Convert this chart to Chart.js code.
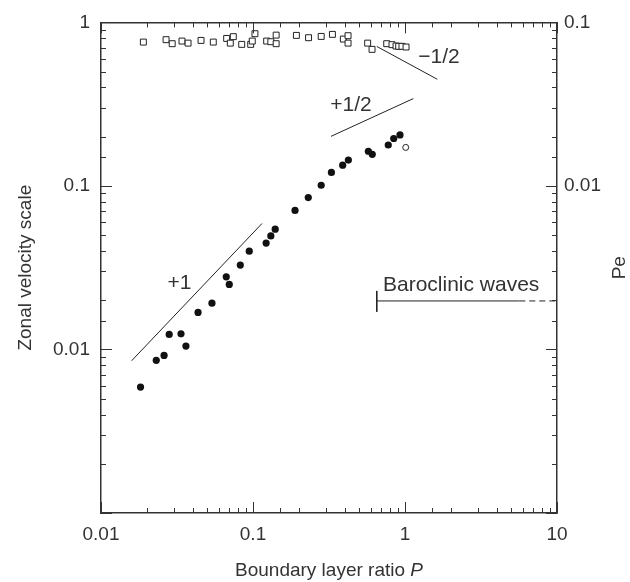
<!DOCTYPE html>
<html>
<head>
<meta charset="utf-8">
<script src="https://cdn.jsdelivr.net/npm/chart.js@4.4.0/dist/chart.umd.min.js"></script>
<style>
  html, body { margin: 0; padding: 0; background: #fff; }
  canvas { display: block; }
</style>
</head>
<body>
<canvas id="chart" width="630" height="582"></canvas>
<script>
// open squares near the top
const squareP = [0.019, 0.0268, 0.0294, 0.0341, 0.0374, 0.0455, 0.0548, 0.0671, 0.0709, 0.0742, 0.0843,
                 0.0966, 0.0989, 0.103, 0.123, 0.131, 0.142, 0.142, 0.193, 0.232, 0.281, 0.333, 0.393,
                 0.422, 0.422, 0.568, 0.607, 0.758, 0.821, 0.873, 0.909, 0.955, 1.016];
const squareV = [0.758, 0.784, 0.741, 0.769, 0.747, 0.776, 0.758, 0.798, 0.747, 0.818, 0.734,
                 0.734, 0.769, 0.853, 0.769, 0.762, 0.836, 0.741, 0.833, 0.806, 0.821, 0.845, 0.791,
                 0.829, 0.747, 0.747, 0.684, 0.741, 0.731, 0.717, 0.714, 0.714, 0.707];

// filled circles
const dotP = [0.0182, 0.0231, 0.026, 0.0281, 0.0336, 0.0362, 0.0435, 0.0537, 0.0667, 0.0698, 0.0825,
              0.0945, 0.122, 0.131, 0.14, 0.189, 0.231, 0.281, 0.328, 0.389, 0.424, 0.574, 0.609,
              0.776, 0.843, 0.927];
const dotV = [0.00589, 0.00858, 0.0092, 0.01236, 0.01247, 0.01049, 0.01685, 0.0192, 0.0278, 0.025, 0.0328,
              0.0399, 0.0447, 0.0495, 0.0544, 0.0708, 0.0849, 0.101, 0.121, 0.134, 0.144, 0.163, 0.156,
              0.178, 0.195, 0.205];

// open circle
const openP = [1.011];
const openV = [0.172];

// slope guide lines
const slopeOneP = [0.0159, 0.1146];
const slopeOneV = [0.00853, 0.0589];
const slopeHalfP = [0.326, 1.134];
const slopeHalfV = [0.201, 0.342];
const slopeNegHalfP = [0.652, 1.631];
const slopeNegHalfV = [0.713, 0.449];

// baroclinic waves range
const baroP = [0.652, 5.65];
const baroV = [0.0198, 0.0198];
const baroDashP = [5.65, 10];
const baroTickV = [0.0228, 0.017];

// tick labels
const xTicks = [0.01, 0.1, 1, 10];
const leftTicks = [1, 0.1, 0.01];
const rightTicks = [0.1, 0.01];

const notes = [
    { text: '+1', p: 0.0328, v: 0.0255, align: 'center' },
    { text: '+1/2', p: 0.441, v: 0.311, align: 'center' },
    { text: '\u22121/2', p: 1.674, v: 0.611, align: 'center' },
    { text: 'Baroclinic waves', p: 0.716, v: 0.0247, align: 'left' }
];

const ink = '#333';
const fontFamily = '"Liberation Sans", Arial, sans-serif';

const pts = (xs, ys) => xs.map((x, i) => ({ x: x, y: ys[i] }));
const same = (a, b) => Math.abs(Math.log10(a) - Math.log10(b)) < 1e-6;
const pick = list => v => (list.some(t => same(t, v)) ? String(v) : '');

const lineSet = (data, dash) => ({
    data: data,
    showLine: true,
    borderColor: '#222',
    borderWidth: 1,
    borderDash: dash || [],
    pointRadius: 0,
    pointHoverRadius: 0
});

// inward ticks on all four sides
const innerTicks = {
    id: 'innerTicks',
    afterDatasetsDraw(chart) {
        const { ctx, chartArea: a, scales } = chart;
        const len = v => (Math.abs(Math.log10(v) - Math.round(Math.log10(v))) < 1e-6 ? 11 : 5);
        ctx.save();
        ctx.strokeStyle = ink;
        ctx.lineWidth = 1;
        const seg = (x1, y1, x2, y2) => {
            ctx.beginPath(); ctx.moveTo(x1, y1); ctx.lineTo(x2, y2); ctx.stroke();
        };
        scales.x.ticks.forEach(t => {
            const px = Math.round(scales.x.getPixelForValue(t.value)) + 0.5;
            seg(px, a.bottom, px, a.bottom - len(t.value));
            seg(px, a.top, px, a.top + len(t.value));
        });
        scales.y.ticks.forEach(t => {
            const py = Math.round(scales.y.getPixelForValue(t.value)) + 0.5;
            seg(a.left, py, a.left + len(t.value), py);
        });
        scales.y2.ticks.forEach(t => {
            const py = Math.round(scales.y2.getPixelForValue(t.value)) + 0.5;
            seg(a.right, py, a.right - len(t.value), py);
        });
        ctx.restore();
    }
};

// annotations and the titles that need italics / left-hand rotation
const labels = {
    id: 'labels',
    afterDraw(chart) {
        const { ctx, chartArea: a, scales } = chart;
        ctx.save();
        ctx.fillStyle = ink;
        ctx.textBaseline = 'middle';
        ctx.font = '21px ' + fontFamily;
        notes.forEach(n => {
            ctx.textAlign = n.align;
            ctx.fillText(n.text, scales.x.getPixelForValue(n.p), scales.y.getPixelForValue(n.v));
        });

        // x title with italic P
        const plain = 'Boundary layer ratio ';
        ctx.font = '19px ' + fontFamily;
        const w1 = ctx.measureText(plain).width;
        ctx.font = 'italic 19px ' + fontFamily;
        const w2 = ctx.measureText('P').width;
        const x0 = (a.left + a.right) / 2 - (w1 + w2) / 2;
        ctx.textAlign = 'left';
        ctx.font = '19px ' + fontFamily;
        ctx.fillText(plain, x0, 571);
        ctx.font = 'italic 19px ' + fontFamily;
        ctx.fillText('P', x0 + w1, 571);

        // right axis title
        ctx.font = '19px ' + fontFamily;
        ctx.translate(620, (a.top + a.bottom) / 2);
        ctx.rotate(-Math.PI / 2);
        ctx.textAlign = 'center';
        ctx.fillText('Pe', 0, 0);
        ctx.restore();
    }
};

const tickFont = { family: fontFamily, size: 19 };

new Chart(document.getElementById('chart'), {
    type: 'scatter',
    data: {
        datasets: [
            {
                data: pts(squareP, squareV),
                pointStyle: 'rect',
                pointRadius: 4.2,
                pointBackgroundColor: '#fff',
                pointBorderColor: '#222',
                pointBorderWidth: 1
            },
            {
                data: pts(dotP, dotV),
                pointStyle: 'circle',
                pointRadius: 3.6,
                pointBackgroundColor: '#111',
                pointBorderColor: '#111',
                pointBorderWidth: 0
            },
            {
                data: pts(openP, openV),
                pointStyle: 'circle',
                pointRadius: 3,
                pointBackgroundColor: '#fff',
                pointBorderColor: '#222',
                pointBorderWidth: 1
            },
            lineSet(pts(slopeOneP, slopeOneV)),
            lineSet(pts(slopeHalfP, slopeHalfV)),
            lineSet(pts(slopeNegHalfP, slopeNegHalfV)),
            lineSet(pts(baroP, baroV)),
            lineSet(pts([baroP[0], baroP[0]], baroTickV)),
            lineSet(pts(baroDashP, baroV), [6, 4])
        ]
    },
    options: {
        responsive: false,
        animation: false,
        events: [],
        layout: { padding: { top: 22, right: 0, bottom: 0, left: 0 } },
        plugins: {
            legend: { display: false },
            tooltip: { enabled: false }
        },
        scales: {
            x: {
                type: 'logarithmic',
                position: 'bottom',
                min: 0.01,
                max: 10,
                afterFit: s => { s.height = 69; },
                grid: { display: false, drawTicks: false },
                border: { color: ink, width: 1.5 },
                ticks: {
                    autoSkip: false,
                    maxRotation: 0,
                    padding: 10,
                    color: ink,
                    font: tickFont,
                    callback: pick(xTicks)
                }
            },
            x2: {
                type: 'logarithmic',
                position: 'top',
                min: 0.01,
                max: 10,
                afterFit: s => { s.height = 0; },
                grid: { display: false, drawTicks: false },
                border: { color: ink, width: 1.5 },
                ticks: { display: false }
            },
            y: {
                type: 'logarithmic',
                position: 'left',
                min: 0.001,
                max: 1,
                afterFit: s => { s.width = 101; },
                grid: { display: false, drawTicks: false },
                border: { color: ink, width: 1.5 },
                title: {
                    display: true,
                    text: 'Zonal velocity scale',
                    color: ink,
                    font: { family: fontFamily, size: 19 },
                    padding: { top: 14, bottom: 0 }
                },
                ticks: {
                    autoSkip: false,
                    padding: 11,
                    color: ink,
                    font: tickFont,
                    callback: pick(leftTicks)
                }
            },
            y2: {
                type: 'logarithmic',
                position: 'right',
                min: 0.0001,
                max: 0.1,
                afterFit: s => { s.width = 73; },
                grid: { display: false, drawTicks: false },
                border: { color: ink, width: 1.5 },
                ticks: {
                    autoSkip: false,
                    padding: 7,
                    color: ink,
                    font: tickFont,
                    callback: pick(rightTicks)
                }
            }
        }
    },
    plugins: [innerTicks, labels]
});
</script>
</body>
</html>
